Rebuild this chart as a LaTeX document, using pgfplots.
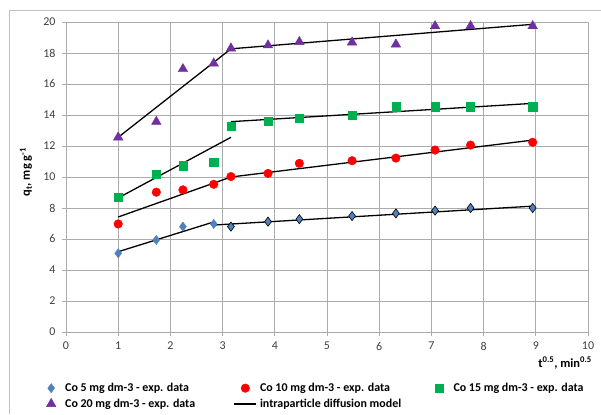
\documentclass[border=0pt]{standalone}
\usepackage{fontspec}
\setmainfont{Carlito}
\usepackage{pgfplots}
\pgfplotsset{compat=1.18}
\definecolor{cblue}{HTML}{4F81BD}
\definecolor{cred}{HTML}{FF0000}
\definecolor{cgreen}{HTML}{00B050}
\definecolor{cpurple}{HTML}{7030A0}
\definecolor{gridgray}{HTML}{ABABAB}
\definecolor{framegray}{HTML}{BFBFBF}
\definecolor{ticktext}{HTML}{404040}
\pgfplotsset{
  markleg/.style={legend image code/.code={\path[draw=none, fill=none] (0bp,0bp) -- (22bp,0bp); \draw[##1] plot coordinates {(11bp,0bp)};}},
  lineleg/.style={legend image code/.code={\path[draw=none, fill=none] (0bp,0bp) -- (22bp,0bp); \draw[##1] (0bp,0bp) -- (22bp,0bp);}},
}
\newcommand{\lt}[1]{\makebox[165.5bp][l]{#1}}
\begin{document}
\begin{tikzpicture}[x=1bp,y=1bp]
\useasboundingbox[fill=white] (0,0) rectangle (601,414);
\draw[framegray, line width=0.9bp] (9,0) -- (9,404) -- (601,404);
\begin{axis}[
  at={(66bp,82bp)}, anchor=south west,
  scale only axis, width=522bp, height=310bp,
  xmin=0, xmax=10, ymin=0, ymax=20,
  xtick={0,1,...,10}, ytick={0,2,...,20},
  grid=major,
  major grid style={gridgray, line width=0.8bp},
  axis line style={gridgray, line width=0.8bp},
  tick align=outside, major tick length=4bp,
  tick style={gridgray, line width=0.8bp},
  xtick pos=bottom, ytick pos=left,
  font=\fontsize{12}{14}\selectfont,
  tick label style={text=ticktext, font=\fontsize{12}{14}\selectfont},
  xticklabel style={yshift=-2.5bp},
  yticklabel style={xshift=-3bp},
  /pgf/number format/assume math mode=true,
  xlabel={\textbf{t\textsuperscript{0.5}, min\textsuperscript{0.5}}},
  xlabel style={at={(axis description cs:1.0077,-0.1)}, anchor=east, inner sep=0pt, font=\fontsize{12.5}{14}\selectfont},
  ylabel={\textbf{q\textsubscript{t}, mg g\textsuperscript{-1}}},
  ylabel style={at={(axis description cs:-0.0766,0.516)}, anchor=center, inner sep=0pt, font=\fontsize{12.5}{14}\selectfont},
  legend columns=3,
  legend cell align=left,
  legend style={at={(axis description cs:-0.0498,-0.2065)}, anchor=west,
    draw=none, fill=none, inner sep=0pt, row sep=3.8bp, column sep=0pt,
    nodes={inner xsep=3bp, inner ysep=1bp},
    font=\bfseries\fontsize{12}{14}\selectfont},
]
% model lines
\addplot[black, line width=1.3bp, forget plot] coordinates {(1,5.18) (2.83,7.1)};
\addplot[black, line width=1.3bp, forget plot] coordinates {(2.83,6.9) (8.94,8.12)};
\addplot[black, line width=1.3bp, forget plot] coordinates {(1,7.42) (3.16,10.0)};
\addplot[black, line width=1.3bp, forget plot] coordinates {(3.16,10.0) (8.94,12.38)};
\addplot[black, line width=1.3bp, forget plot] coordinates {(1,8.65) (3.16,12.56)};
\addplot[black, line width=1.3bp, forget plot] coordinates {(3.16,13.57) (8.94,14.75)};
\addplot[black, line width=1.3bp, forget plot] coordinates {(1,12.56) (3.16,18.27)};
\addplot[black, line width=1.3bp, forget plot] coordinates {(3.16,18.27) (8.94,19.85)};
% experimental data
\addplot[only marks, markleg, mark=diamond*, mark size=4.6bp, mark options={fill=cblue, draw=cblue}]
  coordinates {(1,5.08) (1.73,5.94) (2.24,6.8) (2.83,6.97)};
\addlegendentry{\lt{Co 5 mg dm-3 - exp. data}}
\addplot[only marks, mark=diamond*, mark size=4.6bp, mark options={fill=cblue, draw=black, line width=0.6bp}, forget plot]
  coordinates {(3.16,6.8) (3.87,7.12) (4.47,7.28) (5.48,7.48) (6.32,7.65) (7.07,7.83) (7.75,8.0) (8.94,8.0)};
\addplot[only marks, markleg, mark=*, mark size=4.3bp, mark options={fill=cred, draw=cred}]
  coordinates {(1,6.97) (1.73,9.02) (2.24,9.17) (2.83,9.53) (3.16,10.03) (3.87,10.23) (4.47,10.88) (5.48,11.05) (6.32,11.22) (7.07,11.74) (7.75,12.06) (8.94,12.24)};
\addlegendentry{\lt{Co 10 mg dm-3 - exp. data}}
\addplot[only marks, markleg, mark=square*, mark size=4.1bp, mark options={fill=cgreen, draw=cgreen}]
  coordinates {(1,8.7) (1.73,10.19) (2.24,10.73) (2.83,10.95) (3.16,13.29) (3.87,13.6) (4.47,13.78) (5.48,14.0) (6.32,14.53) (7.07,14.53) (7.75,14.53) (8.94,14.53)};
\addlegendentry{\lt{Co 15 mg dm-3 - exp. data}}
\addplot[only marks, markleg, mark=triangle*, mark size=5.5bp, mark options={fill=cpurple, draw=cpurple}]
  coordinates {(1,12.56) (1.73,13.57) (2.24,16.97) (2.83,17.33) (3.16,18.3) (3.87,18.5) (4.47,18.72) (5.48,18.69) (6.32,18.56) (7.07,19.74) (7.75,19.74) (8.94,19.74)};
\addlegendentry{\lt{Co 20 mg dm-3 - exp. data}}
\addlegendimage{black, line width=1.3bp, lineleg}
\addlegendentry{\lt{intraparticle diffusion model}}
\end{axis}
\end{tikzpicture}
\end{document}
